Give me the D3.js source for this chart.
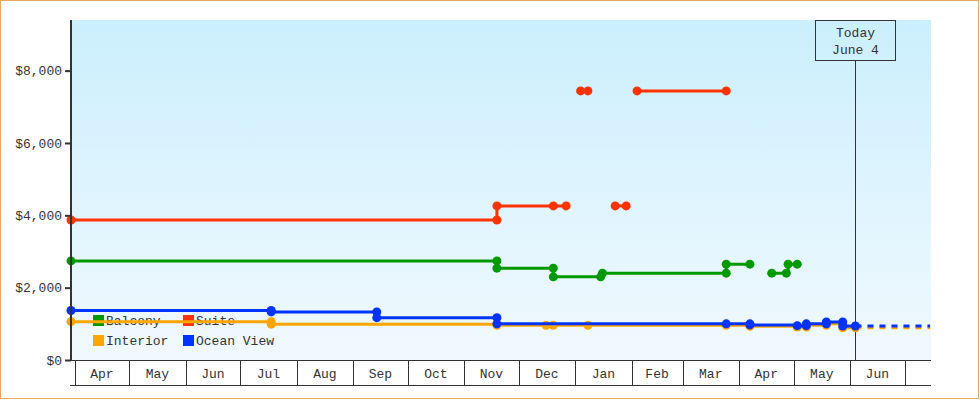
<!DOCTYPE html>
<html>
<head>
<meta charset="utf-8">
<script src="https://cdn.jsdelivr.net/npm/d3@7"></script>
<style>
  body { margin: 0; background: #fff; }
  text { font-family: "Liberation Mono", "DejaVu Sans Mono", monospace; font-size: 13px; fill: #333; }
</style>
</head>
<body>
<div id="chart"></div>
<script>
//price history data, one array of segments per cabin type ([date, price] points)
var balcony = [
    [["2018-03-30",2740],["2018-11-19",2740],["2018-11-19",2540],["2018-12-20",2540],["2018-12-20",2300],
     ["2019-01-15",2300],["2019-01-16",2400],["2019-03-25",2400],["2019-03-25",2650],["2019-04-07",2650]],
    [["2019-04-19",2400],["2019-04-27",2400],["2019-04-28",2650],["2019-05-03",2650]]
];
var suite = [
    [["2018-03-30",3870],["2018-11-19",3870],["2018-11-19",4260],["2018-12-20",4260],["2018-12-27",4260]],
    [["2019-01-04",7440],["2019-01-08",7440]],
    [["2019-01-23",4260],["2019-01-29",4260]],
    [["2019-02-04",7440],["2019-03-25",7440]]
];
var interior = [
    [["2018-03-30",1060],["2018-07-18",1060],["2018-07-18",990],["2018-11-19",990],["2018-11-19",960],
     ["2018-12-16",960],["2018-12-20",960],["2019-01-08",960],["2019-03-25",960],["2019-04-07",960],
     ["2019-04-07",930],["2019-05-03",910],["2019-05-08",910],["2019-05-08",960],["2019-05-19",960],
     ["2019-05-19",1000],["2019-05-28",1000],["2019-05-28",890],["2019-06-04",890]]
];
var oceanView = [
    [["2018-03-30",1370],["2018-07-18",1370],["2018-07-18",1330],["2018-09-14",1330],["2018-09-14",1170],
     ["2018-11-19",1170],["2018-11-19",1000],["2019-03-25",1000],["2019-04-07",1000],["2019-04-07",970],
     ["2019-05-03",950],["2019-05-08",950],["2019-05-08",1000],["2019-05-19",1000],["2019-05-19",1050],
     ["2019-05-28",1050],["2019-05-28",940],["2019-06-04",940]]
];

var seriesNames = ["Balcony", "Suite", "Interior", "Ocean View"];
var seriesColors = ["#009900", "#ff3300", "#ffa500", "#0033ff"];
var seriesData = [balcony, suite, interior, oceanView];
var stillOnSale = [false, false, true, true]; //these get a dashed line past today

var monthStarts = ["2018-04-01","2018-05-01","2018-06-01","2018-07-01","2018-08-01","2018-09-01","2018-10-01",
    "2018-11-01","2018-12-01","2019-01-01","2019-02-01","2019-03-01","2019-04-01","2019-05-01","2019-06-01","2019-07-01"];
var yTicks = [0, 2000, 4000, 6000, 8000];
var today = "2019-06-04";
var startDate = "2018-03-30", endDate = "2019-07-15";

var parse = d3.utcParse("%Y-%m-%d");
var FONT = '"Liberation Mono", "DejaVu Sans Mono", monospace';

var W = 980, H = 400;
var plot = {l: 71, r: 931, t: 20, b: 360};

var svg = d3.select("#chart").append("svg")
    .attr("width", W)
    .attr("height", H);

var x = d3.scaleUtc()
    .domain([parse(startDate), d3.utcHour.offset(parse(endDate), 12)])
    .range([plot.l, plot.r]);
var y = d3.scaleLinear()
    .domain([0, 9400])
    .range([plot.b, plot.t]);

//background gradient
var grad = svg.append("defs").append("linearGradient")
    .attr("id", "bg").attr("x1", 0).attr("y1", 0).attr("x2", 0).attr("y2", 1);
grad.append("stop").attr("offset", "0%").attr("stop-color", "#cbeffd");
grad.append("stop").attr("offset", "100%").attr("stop-color", "#f1f9fe");

svg.append("rect")
    .attr("x", 0.5).attr("y", 0.5)
    .attr("width", 978).attr("height", 398)
    .attr("fill", "#fff")
    .attr("stroke", "#eaa960");

svg.append("rect")
    .attr("x", plot.l).attr("y", plot.t)
    .attr("width", plot.r - plot.l).attr("height", plot.b - plot.t)
    .attr("fill", "url(#bg)");

//legend (drawn under the lines)
var legend = svg.append("g").attr("class", "legend");
seriesNames.forEach(function(name, i) {
    var lx = 93 + (i % 2) * 90, ly = 315 + Math.floor(i / 2) * 20;
    legend.append("rect")
        .attr("x", lx).attr("y", ly)
        .attr("width", 11).attr("height", 11)
        .attr("fill", seriesColors[i]);
    legend.append("text")
        .attr("x", lx + 13).attr("y", ly + 10)
        .text(name);
});

//today marker
var tx = Math.round(x(parse(today))) + 0.5;
svg.append("line")
    .attr("x1", tx).attr("x2", tx)
    .attr("y1", 60).attr("y2", plot.b)
    .attr("stroke", "#333");
svg.append("rect")
    .attr("x", tx - 40).attr("y", 20.5)
    .attr("width", 80).attr("height", 40)
    .attr("fill", "none")
    .attr("stroke", "#333");
svg.append("text").attr("x", tx).attr("y", 37).style("text-anchor", "middle").text("Today");
svg.append("text").attr("x", tx).attr("y", 54).style("text-anchor", "middle")
    .text(d3.utcFormat("%B %-d")(parse(today)));

//price lines
var line = d3.line()
    .curve(d3.curveStepAfter)
    .x(function(d) { return x(parse(d[0])); })
    .y(function(d) { return y(d[1]); });

seriesData.forEach(function(segments, i) {
    var g = svg.append("g").attr("class", "series");
    var last = segments[segments.length - 1];
    last = last[last.length - 1];
    if (stillOnSale[i]) {
        g.append("path")
            .attr("d", line([last, [endDate, last[1]]]))
            .attr("fill", "none")
            .attr("stroke", seriesColors[i])
            .attr("stroke-width", 3)
            .attr("stroke-dasharray", "6,6");
    }
    segments.forEach(function(seg) {
        g.append("path")
            .attr("d", line(seg))
            .attr("fill", "none")
            .attr("stroke", seriesColors[i])
            .attr("stroke-width", 3);
        g.selectAll(null)
            .data(seg)
            .enter().append("circle")
            .attr("cx", function(d) { return x(parse(d[0])); })
            .attr("cy", function(d) { return y(d[1]); })
            .attr("r", 4.5)
            .attr("fill", seriesColors[i]);
    });
});

//y axis
var yAxis = svg.append("g")
    .attr("transform", "translate(" + plot.l + ",0)")
    .call(d3.axisLeft(y).tickValues(yTicks).tickSize(6).tickPadding(3)
        .tickFormat(function(d) { return "$" + d3.format(",")(d); }));
yAxis.select(".domain").remove();
yAxis.selectAll("line").attr("stroke", "#333").attr("stroke-width", 2);
yAxis.selectAll("text")
    .style("font-family", FONT)
    .style("font-size", "13px")
    .attr("fill", "#333");

svg.append("line")
    .attr("x1", plot.l).attr("x2", plot.l)
    .attr("y1", plot.t).attr("y2", plot.b + 1)
    .attr("stroke", "#333").attr("stroke-width", 2);

//month strip along the bottom
var strip = svg.append("g").attr("class", "months");
[plot.b + 0.5, 385.5].forEach(function(yy) {
    strip.append("line")
        .attr("x1", 70).attr("x2", plot.r)
        .attr("y1", yy).attr("y2", yy)
        .attr("stroke", "#333");
});
strip.selectAll(".tick-m")
    .data(monthStarts)
    .enter().append("line")
    .attr("x1", function(d) { return Math.round(x(parse(d))) + 0.5; })
    .attr("x2", function(d) { return Math.round(x(parse(d))) + 0.5; })
    .attr("y1", plot.b).attr("y2", 385)
    .attr("stroke", "#333");
strip.selectAll(".label-m")
    .data(monthStarts.slice(0, -1))
    .enter().append("text")
    .attr("x", function(d, i) { return (x(parse(d)) + x(parse(monthStarts[i + 1]))) / 2; })
    .attr("y", 378)
    .style("text-anchor", "middle")
    .text(function(d) { return d3.utcFormat("%b")(parse(d)); });
</script>
</body>
</html>
